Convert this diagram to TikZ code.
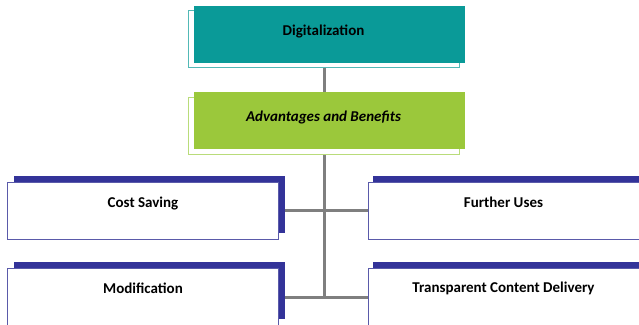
\documentclass[tikz,border=0pt]{standalone}
\usepackage{fontspec}
\setmainfont{Carlito}
\usetikzlibrary{backgrounds}
\definecolor{tealfill}{HTML}{0A9A98}
\definecolor{tealline}{HTML}{52B9B6}
\definecolor{greenfill}{HTML}{9BC83B}
\definecolor{greenline}{HTML}{B9DC7A}
\definecolor{navy}{HTML}{333399}
\definecolor{navyline}{HTML}{5A5AAA}
\definecolor{conn}{HTML}{7F7F7F}
\tikzset{
  boxsize/.style={minimum width=271pt, minimum height=57pt, inner xsep=0pt, inner ysep=0pt, outer sep=0pt},
  topfill/.style={boxsize, fill=tealfill, font=\fontsize{15}{18}\selectfont\bfseries},
  topline/.style={boxsize, draw=tealline, line width=1pt, fill=white},
  midfill/.style={boxsize, fill=greenfill, font=\fontsize{15}{18}\selectfont\bfseries\itshape},
  midline/.style={boxsize, draw=greenline, line width=1pt, fill=white},
  shadowbox/.style={boxsize, fill=navy},
  itembox/.style={boxsize, fill=white, draw=navyline, line width=1pt, font=\fontsize{15}{18}\selectfont\bfseries},
  connector/.style={draw=conn, line width=3pt}
}
\begin{document}
\begin{tikzpicture}[x=1pt,y=-1pt]
\useasboundingbox (0,0) rectangle (639,324);
% top box
\node[topline] (digline) at (323.5,39) {};
\node[topfill, text height=29pt, text depth=28pt] (dig) at (329.5,34.5) {\hspace*{-12pt}Digitalization};
% middle box
\node[midline] (advline) at (323.5,125.5) {};
\node[midfill, text height=29pt, text depth=28pt] (adv) at (329.5,120.5) {\hspace*{-12pt}Advantages and Benefits};
% item boxes
\node[shadowbox] (costsh) at (149.5,204.5) {};
\node[itembox, text height=25pt, text depth=32pt] (cost) at (143,210.5) {Cost Saving};
\node[shadowbox] (furthersh) at (508.5,204.5) {};
\node[itembox, text height=25pt, text depth=32pt] (further) at (503.5,210.5) {Further Uses};
\node[shadowbox] (modsh) at (149.5,290.5) {};
\node[itembox, text height=25pt, text depth=32pt] (mod) at (143,297) {Modification};
\node[shadowbox] (transsh) at (508.5,290.5) {};
\node[itembox, text height=24pt, text depth=33pt] (trans) at (503.5,297) {Transparent Content Delivery};
% connectors
\coordinate (trunkend) at (324,297);
\begin{scope}[on background layer]
\draw[connector] (dig.south -| trunkend) -- (adv.north -| trunkend);
\draw[connector] (adv.south -| trunkend) -- ([yshift=1.5pt]trunkend);
\draw[connector] (cost.east) -- (further.west);
\draw[connector] (mod.east) -- (trans.west);
\end{scope}
\end{tikzpicture}
\end{document}
